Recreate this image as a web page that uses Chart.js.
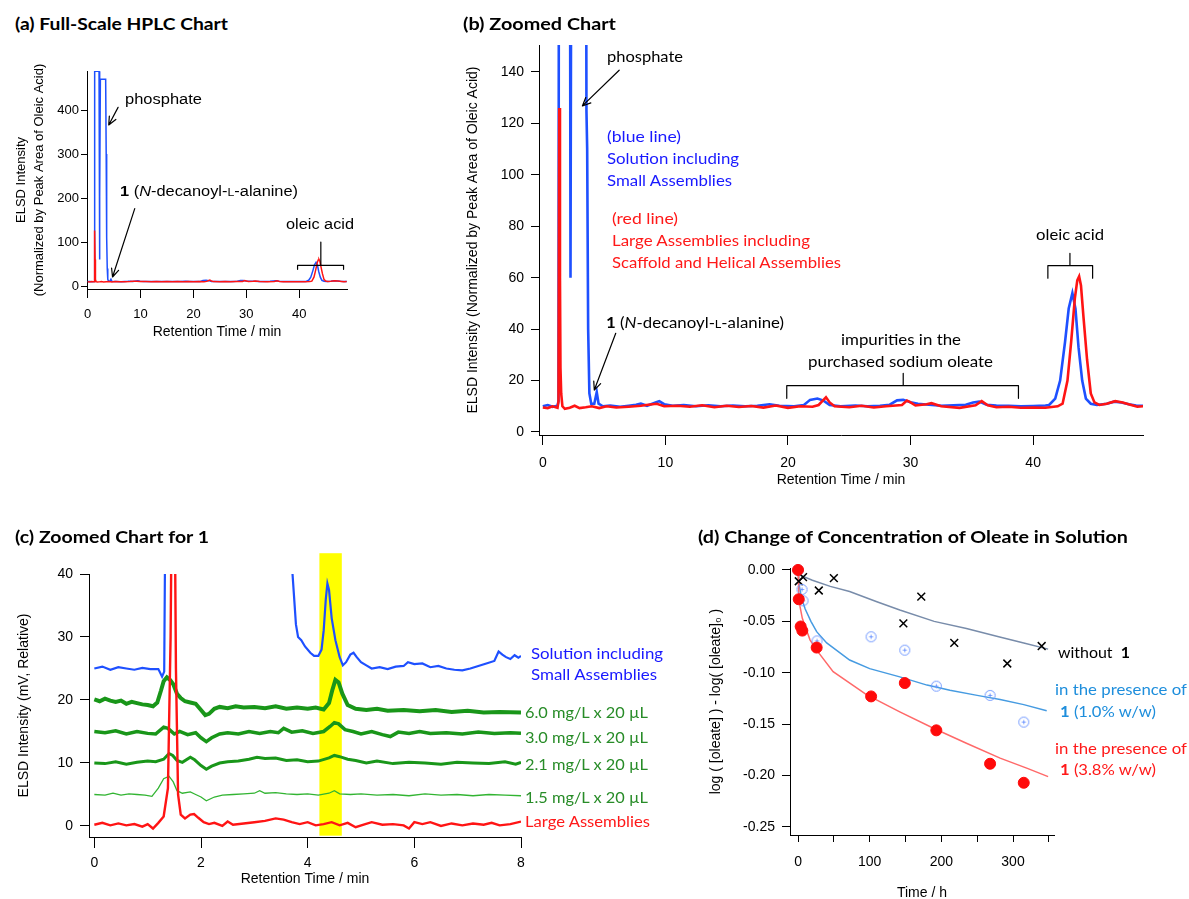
<!DOCTYPE html>
<html>
<head>
<meta charset="utf-8">
<title>HPLC of oleate assemblies</title>
<script src="https://cdn.jsdelivr.net/npm/chart.js@4.4.1/dist/chart.umd.min.js"></script>
<style>
  body { margin: 0; width: 1189px; height: 899px; overflow: hidden; background: #fff; position: relative; }
  canvas { position: absolute; }
  .lbl { position: absolute; white-space: nowrap; line-height: 1; transform-origin: 0 50%; z-index: 2; }
  .sc { font-size: 75%; }
</style>
</head>
<body>
<canvas id="chartA" width="400" height="310" style="left:0;top:40px"></canvas>
<canvas id="chartB" width="749" height="500" style="left:440px;top:0"></canvas>
<canvas id="chartC" width="690" height="354" style="left:0;top:545px"></canvas>
<canvas id="chartD" width="499" height="360" style="left:690px;top:545px"></canvas>
<script>
// --- data: [retention time (min), signal] ---
const hplcBlue = [[0,10],[0.4,10.5],[0.8,9.8],[1.2,10.2],[1.28,12],[1.36,488],[2.15,488],[2.22,200],[2.26,60],[2.32,200],[2.4,470],[3.4,470],[3.5,300],[3.56,125],[3.62,110],[3.7,40],[3.8,15],[3.95,11],[4.2,11],[4.4,15.5],[4.55,11],[4.9,10],[5.5,10.3],[6.3,9.8],[7.0,10.2],[7.6,10.6],[8.0,11],[8.5,10.2],[9.2,11.5],[9.5,12],[9.9,10.8],[10.6,10.2],[11.5,10.5],[12.5,10],[13.5,10.4],[14.5,10],[15.5,10.3],[16.5,10],[17.5,10.2],[18.5,10.8],[19.3,10.2],[20.5,10],[21.3,10.5],[21.8,12.5],[22.4,13],[22.9,12.2],[23.4,10.5],[24.3,10],[25.5,10.3],[26.5,10],[27.5,10.2],[28.3,10.6],[28.9,12.3],[29.4,12.5],[30.0,11.6],[30.6,11],[31.5,10.6],[32.5,10.2],[33.5,10.4],[34.5,10.6],[35.1,11.5],[35.6,11.8],[36.2,10.6],[37.0,10.3],[38.0,10.2],[39.0,10],[40.0,10.1],[41.0,10.3],[41.3,10.5],[41.8,13],[42.2,20],[42.6,35],[42.9,48],[43.2,54],[43.45,48],[43.7,33],[44.0,20],[44.3,13],[44.7,11],[45.2,10.5],[46.0,11],[46.6,11.8],[47.2,11.5],[47.8,10.8],[48.4,10.3],[49.0,10.2]];
const hplcRed = [[0,9.5],[0.4,9.3],[0.8,10],[1.2,9.4],[1.28,12],[1.34,126],[1.4,60],[1.44,25],[1.5,15],[1.6,10],[1.8,9],[2.2,9.4],[2.6,10.2],[3.0,9.3],[3.5,9.6],[4.0,10],[4.6,9.3],[5.2,10],[6.0,9.5],[7.0,9.8],[8.0,10.2],[8.6,10.6],[9.3,11],[9.9,10],[11.0,10.2],[12.0,9.8],[13.0,10.4],[14.0,9.6],[15.0,10.2],[16.0,9.7],[17.0,10.1],[18.0,9.5],[19.0,10.3],[20.0,9.4],[21.0,10],[22.0,9.8],[22.5,10.5],[22.8,12],[23.1,13.5],[23.4,11.5],[23.8,10],[25.0,9.6],[26.0,10.2],[27.0,9.5],[28.0,10],[29.3,10.5],[29.7,12.2],[30.0,11.5],[30.4,10.3],[31.3,10.8],[31.7,11.2],[32.5,10],[34.0,9.4],[35.3,10.4],[35.8,12],[36.3,10.4],[37.0,9.6],[38.0,9.8],[39.0,9.4],[40.0,9.5],[41.0,9.4],[42.0,10],[42.4,11],[42.8,20],[43.1,35],[43.4,52],[43.6,59],[43.75,60.5],[43.9,57],[44.1,45],[44.4,28],[44.7,15],[45.0,11.5],[45.4,10.5],[46.0,11],[46.7,12],[47.3,11.5],[48.0,10.5],[48.5,9.8],[49.0,10]];

// panel (c): first 8 min, relative mV
const cSmall = [[0,25],[0.15,25.3],[0.3,24.8],[0.45,25.2],[0.6,25],[0.75,24.8],[0.9,25.1],[1.05,24.9],[1.2,24.9],[1.27,23.7],[1.31,24.5],[1.34,60],[3.68,60],[3.7,42],[3.74,37],[3.78,32],[3.82,30],[3.88,29.5],[3.95,28.5],[4.05,27.5],[4.12,27],[4.2,27],[4.26,28],[4.3,31],[4.34,36],[4.37,38.5],[4.4,37.5],[4.45,33],[4.52,29.5],[4.6,26.8],[4.66,25.5],[4.72,26],[4.8,27.2],[4.86,27.5],[4.92,26.8],[5.0,26],[5.1,25.5],[5.2,25],[5.35,25.2],[5.5,24.9],[5.65,25.3],[5.8,25.4],[5.88,26],[6.0,25.7],[6.15,25.8],[6.3,25.2],[6.45,25.4],[6.6,25],[6.75,24.8],[6.9,24.7],[7.05,25],[7.2,25.4],[7.35,25.8],[7.5,26.2],[7.58,27.7],[7.65,27.2],[7.72,26.8],[7.8,26.5],[7.88,27.1],[7.95,26.7],[8.0,27]];
const c60 = [[0,20.1],[0.1,19.8],[0.2,20.2],[0.3,19.9],[0.4,19.7],[0.5,19.9],[0.6,19.4],[0.7,19.7],[0.8,19.5],[0.9,19.3],[1.0,19.2],[1.1,19.0],[1.18,19.6],[1.25,21.5],[1.3,23.0],[1.36,23.6],[1.42,23.2],[1.48,22.5],[1.55,21.0],[1.62,20.3],[1.7,19.8],[1.8,19.6],[1.9,19.4],[2.0,18.4],[2.08,17.6],[2.15,17.8],[2.25,18.6],[2.35,18.9],[2.5,18.7],[2.65,19.0],[2.8,18.8],[3.0,18.9],[3.2,18.7],[3.4,19.0],[3.6,18.6],[3.8,18.8],[4.0,18.6],[4.15,18.8],[4.3,18.5],[4.4,19.5],[4.46,21.5],[4.52,23.2],[4.58,22.8],[4.65,21.0],[4.75,19.2],[4.9,18.6],[5.1,18.4],[5.3,18.6],[5.5,18.3],[5.8,18.4],[6.1,18.2],[6.4,18.4],[6.7,18.1],[7.0,18.3],[7.3,18.0],[7.6,18.1],[8.0,18.0]];
const c30 = [[0,15],[0.2,14.8],[0.4,15.1],[0.6,14.6],[0.8,15],[1.0,14.7],[1.15,14.6],[1.3,15.7],[1.38,15.5],[1.5,14.6],[1.6,15],[1.75,14.5],[1.9,14.8],[2.0,14.0],[2.1,13.4],[2.2,14],[2.35,14.6],[2.5,14.8],[2.7,14.6],[2.9,15],[3.1,14.7],[3.3,15],[3.45,14.8],[3.55,15.5],[3.7,14.9],[3.9,15.1],[4.1,14.7],[4.3,15],[4.42,15.8],[4.5,16.4],[4.58,16.2],[4.7,15.3],[4.85,15],[5.0,14.6],[5.2,15],[5.4,14.5],[5.55,14.2],[5.7,14.9],[5.9,14.7],[6.1,15],[6.3,14.7],[6.6,14.8],[6.9,14.6],[7.2,14.9],[7.5,14.7],[7.8,14.8],[8.0,14.7]];
const c21 = [[0,10],[0.2,9.9],[0.4,10.2],[0.6,9.8],[0.8,10.1],[1.0,10.3],[1.15,10.2],[1.3,10.6],[1.4,11.5],[1.47,11.2],[1.55,10.4],[1.65,10.1],[1.8,10.9],[1.88,10.5],[2.0,9.6],[2.1,9.0],[2.2,9.5],[2.35,10],[2.5,10.2],[2.7,10.3],[2.9,10.6],[3.05,10.9],[3.2,10.7],[3.4,10.8],[3.6,10.4],[3.8,10.5],[4.0,10.2],[4.2,10.3],[4.4,10.8],[4.5,11.2],[4.6,11],[4.75,10.6],[4.9,10.4],[5.1,10],[5.3,10.3],[5.6,9.9],[5.9,10.1],[6.2,10],[6.5,9.8],[6.8,10.1],[7.1,10],[7.4,9.9],[7.7,10.2],[7.9,9.8],[8.0,10.1]];
const c15 = [[0,5],[0.2,4.9],[0.35,5.2],[0.5,4.9],[0.65,5.1],[0.8,5],[0.95,4.9],[1.08,4.7],[1.2,6],[1.3,7.5],[1.4,7.9],[1.48,7],[1.55,5.6],[1.65,5.2],[1.8,5.4],[1.9,5],[2.0,4.6],[2.1,4.0],[2.25,4.6],[2.4,4.9],[2.6,5],[2.8,5.1],[3.0,5.2],[3.1,5.6],[3.2,5.2],[3.4,5.3],[3.6,5.1],[3.8,5],[4.0,5.1],[4.2,4.9],[4.4,5.2],[4.5,5.6],[4.6,5.1],[4.8,5],[5.0,5.1],[5.3,4.9],[5.6,5],[5.9,4.8],[6.2,5.1],[6.5,4.9],[6.8,5],[7.1,4.8],[7.4,5],[7.7,4.9],[8.0,4.8]];
const cLarge = [[0,0.2],[0.15,0.5],[0.3,0.1],[0.45,0.4],[0.6,0.1],[0.75,0.3],[0.9,-0.1],[1.0,0.3],[1.1,-0.4],[1.2,0.5],[1.3,1.5],[1.38,6],[1.43,30],[1.46,60],[1.5,60],[1.53,25],[1.57,5],[1.62,1.8],[1.7,1.2],[1.8,1.8],[1.87,1.9],[1.95,1.3],[2.05,0.6],[2.15,0.3],[2.25,0.5],[2.4,0],[2.5,0.7],[2.6,0.2],[2.8,0.4],[3.0,0.6],[3.2,0.8],[3.4,1.2],[3.55,1],[3.7,0.6],[3.85,0.3],[4.0,0.6],[4.15,0.1],[4.3,0.3],[4.45,0.6],[4.6,0.1],[4.75,0.5],[4.9,-0.2],[5.05,0.2],[5.2,0.6],[5.4,0.2],[5.6,0.3],[5.8,0.1],[5.9,-0.4],[6.0,0.6],[6.15,0.3],[6.3,0.6],[6.5,0],[6.7,0.4],[6.9,0.1],[7.1,0.4],[7.3,0.2],[7.45,0.5],[7.6,0.1],[7.8,0.3],[8.0,0.7]];

// panel (d): time (h) and log([oleate]) - log([oleate]0)
const timeNo1 = [1, 7, 29, 50, 147, 172, 218, 292, 340];
const logNo1 = [-0.011, -0.007, -0.020, -0.008, -0.052, -0.026, -0.071, -0.091, -0.074];
const time10 = [0, 5.6, 7, 26.5, 102, 149, 193, 268, 315];
const log10 = [0, -0.019, -0.030, -0.069, -0.065, -0.078, -0.113, -0.122, -0.148];
const time38 = [0, 1, 3.7, 6, 26, 102, 149, 193, 268, 315];
const log38 = [0, -0.0285, -0.055, -0.059, -0.0755, -0.123, -0.110, -0.156, -0.1885, -0.207];
const fitNo1T = [0, 3, 20, 45, 72, 110, 142, 190, 235, 280, 315, 349];
const fitNo1Y = [-0.001, -0.005, -0.010, -0.016, -0.021, -0.031, -0.039, -0.050, -0.057, -0.065, -0.071, -0.077];
const fit10T = [0, 1, 3, 5, 10, 18, 26, 40, 72, 100, 142, 180, 212, 250, 282, 315, 347];
const fit10Y = [0, -0.012, -0.020, -0.0276, -0.038, -0.050, -0.060, -0.071, -0.0876, -0.096, -0.104, -0.112, -0.117, -0.122, -0.126, -0.131, -0.137];
const fit38T = [0, 1, 2.8, 6, 10, 16.7, 26, 49, 96, 142, 189, 235, 282, 320, 349];
const fit38Y = [0, -0.022, -0.0357, -0.047, -0.055, -0.068, -0.078, -0.099, -0.1216, -0.138, -0.154, -0.1686, -0.183, -0.193, -0.201];

// tick labels
const ticksA_x = [0, 10, 20, 30, 40];
const ticksA_y = [0, 100, 200, 300, 400];
const ticksB_x = [0, 10, 20, 30, 40];
const ticksB_y = [0, 20, 40, 60, 80, 100, 120, 140];
const ticksC_x = [0, 2, 4, 6, 8];
const ticksC_y = [0, 10, 20, 30, 40];
const ticksD_x = [0, 50, 100, 150, 200, 250, 300, 350];
const ticksD_y = [0, -0.05, -0.1, -0.15, -0.2, -0.25];

// --- colours ---
const BLUE = 'rgb(30,80,255)';
const RED = 'rgb(255,20,20)';
const GREEN = 'rgb(25,150,25)';
const GREEN_LT = 'rgb(50,180,50)';
const TXT_BLUE = 'rgb(25,25,255)';
const TXT_RED = 'rgb(255,25,25)';
const TXT_GREEN = 'rgb(40,140,40)';
const D_BLUE = 'rgb(30,142,220)';

Chart.defaults.font.family = "'Liberation Sans', 'DejaVu Sans', Arial, sans-serif";
Chart.defaults.color = '#000';
Chart.defaults.animation = false;
Chart.defaults.plugins.legend.display = false;
Chart.defaults.plugins.tooltip.enabled = false;

const pairsXY = pairs => pairs.map(([x, y]) => ({ x, y }));
const zipXY = (xs, ys) => xs.map((x, i) => ({ x, y: ys[i] }));

function trace(data, color, width) {
    return { data, borderColor: color, borderWidth: width, showLine: true, pointRadius: 0, tension: 0, fill: false };
}

function axis(o) {
    return {
        type: 'linear',
        min: o.min, max: o.max,
        afterFit: s => { if (s.isHorizontal()) s.height = o.size; else s.width = o.size; },
        afterBuildTicks: s => { s.ticks = o.ticks.map(v => ({ value: v })); },
        grid: { drawOnChartArea: false, drawTicks: true, tickLength: o.tick, tickColor: '#000', tickWidth: 1, color: '#000' },
        border: { display: true, color: '#000', width: 1 },
        ticks: { padding: o.pad, font: { size: o.font }, color: '#000', maxRotation: 0, autoSkip: false, callback: o.label || (v => String(v)) },
        title: { display: true, text: o.title, color: '#000', font: { size: o.titleFont || 14, lineHeight: o.titleLH || 1.2 }, padding: o.titlePad }
    };
}

// annotation layer: arrows and brackets in data coordinates
function notes(draw) {
    return {
        id: 'notes',
        afterDatasetsDraw(chart) {
            const { ctx, scales: { x, y } } = chart;
            const P = (a, b) => [x.getPixelForValue(a), y.getPixelForValue(b)];
            ctx.save();
            ctx.strokeStyle = '#000';
            ctx.lineWidth = 1.2;
            ctx.lineJoin = 'round';
            ctx.lineCap = 'round';
            draw(ctx, P);
            ctx.restore();
        }
    };
}

function arrow(ctx, from, to) {
    const [x1, y1] = from, [x2, y2] = to;
    const a = Math.atan2(y2 - y1, x2 - x1), h = 9;
    ctx.beginPath();
    ctx.moveTo(x1, y1); ctx.lineTo(x2, y2);
    ctx.moveTo(x2 - h * Math.cos(a - 0.42), y2 - h * Math.sin(a - 0.42));
    ctx.lineTo(x2, y2);
    ctx.lineTo(x2 - h * Math.cos(a + 0.42), y2 - h * Math.sin(a + 0.42));
    ctx.stroke();
}

function bracket(ctx, P, x1, x2, xm, yh, ye, yt) {
    const [l, h] = P(x1, yh), [r] = P(x2, yh), [m, top] = P(xm, yt), [, end] = P(x1, ye);
    ctx.beginPath();
    ctx.moveTo(l, end); ctx.lineTo(l, h); ctx.lineTo(r, h); ctx.lineTo(r, end);
    ctx.moveTo(m, h); ctx.lineTo(m, top);
    ctx.stroke();
}

// (a) full scale
new Chart(document.getElementById('chartA'), {
    type: 'scatter',
    data: { datasets: [trace(pairsXY(hplcRed), RED, 1.5), trace(pairsXY(hplcBlue), BLUE, 1.5)] },
    options: {
        responsive: false,
        layout: { padding: { left: 0, top: 31, right: 53, bottom: 0 } },
        scales: {
            x: axis({ min: -0.13, max: 49.05, size: 61, tick: 9, pad: 9, font: 13, ticks: ticksA_x,
                title: 'Retention Time / min', titlePad: { top: 0, bottom: 9.6 } }),
            y: axis({ min: -6.8, max: 488.7, size: 87, tick: 6, pad: 2, font: 13, ticks: ticksA_y,
                title: ['ELSD Intensity', '(Normalized by Peak Area of Oleic Acid)'], titleFont: 13, titleLH: 1.354,
                titlePad: { top: 12.9, bottom: 0 } })
        }
    },
    plugins: [notes((ctx, P) => {
        arrow(ctx, P(5.75, 406), P(3.98, 366));
        arrow(ctx, P(8.9, 176), P(4.7, 20.5));
        bracket(ctx, P, 39.7, 48.4, 44.1, 47, 38, 100);
    })]
});

// (b) zoomed
new Chart(document.getElementById('chartB'), {
    type: 'scatter',
    data: { datasets: [trace(pairsXY(hplcRed), RED, 2.6), trace(pairsXY(hplcBlue), BLUE, 2.6)] },
    options: {
        responsive: false,
        layout: { padding: { left: 0, top: 45, right: 46, bottom: 0 } },
        scales: {
            x: axis({ min: -0.31, max: 48.96, size: 65, tick: 10, pad: 9.6, font: 14, ticks: ticksB_x,
                title: 'Retention Time / min', titlePad: { top: 0, bottom: 11.6 } }),
            y: axis({ min: -1.17, max: 150.5, size: 99, tick: 8, pad: 7, font: 14, ticks: ticksB_y,
                title: 'ELSD Intensity (Normalized by Peak Area of Oleic Acid)', titlePad: { top: 25, bottom: 0 } })
        }
    },
    plugins: [notes((ctx, P) => {
        arrow(ctx, P(6.23, 140.7), P(3.23, 126.8));
        arrow(ctx, P(5.95, 38.4), P(4.2, 16.3));
        bracket(ctx, P, 19.9, 38.8, 29.4, 18.0, 13.1, 22.8);
        bracket(ctx, P, 41.2, 44.85, 43.0, 64.7, 59.8, 69.5);
    })]
});

// (c) zoomed for compound 1
const yellowBand = {
    id: 'yellowBand',
    beforeDatasetsDraw(chart) {
        const { ctx, scales: { x, y } } = chart;
        const l = x.getPixelForValue(4.22), r = x.getPixelForValue(4.64);
        const t = y.getPixelForValue(43.3), b = y.getPixelForValue(-1.54);
        ctx.save();
        ctx.fillStyle = '#ffff00';
        ctx.fillRect(l, t, r - l, b - t);
        ctx.restore();
    }
};

new Chart(document.getElementById('chartC'), {
    type: 'scatter',
    data: {
        datasets: [
            trace(pairsXY(cLarge), RED, 2.4),
            trace(pairsXY(cSmall), BLUE, 2.2),
            trace(pairsXY(c15), GREEN_LT, 1.3),
            trace(pairsXY(c21), GREEN, 3),
            trace(pairsXY(c30), GREEN, 3.5),
            trace(pairsXY(c60), GREEN, 4)
        ]
    },
    options: {
        responsive: false,
        layout: { padding: { left: 0, top: 29, right: 169, bottom: 0 } },
        scales: {
            x: axis({ min: -0.1, max: 8, size: 62, tick: 11, pad: 6.6, font: 14, ticks: ticksC_x,
                title: 'Retention Time / min', titlePad: { top: 0, bottom: 11.6 } }),
            y: axis({ min: -1.75, max: 40, size: 89, tick: 9, pad: 7, font: 14, ticks: ticksC_y,
                title: 'ELSD Intensity (mV, Relative)', titlePad: { top: 16, bottom: 0 } })
        }
    },
    plugins: [yellowBand]
});

// (d) concentration change
function circlePlus(color) {
    const c = document.createElement('canvas');
    c.width = 13; c.height = 13;
    const g = c.getContext('2d');
    g.strokeStyle = color; g.lineWidth = 1;
    g.beginPath(); g.arc(6.5, 6.5, 5, 0, Math.PI * 2); g.stroke();
    g.beginPath(); g.moveTo(6.5, 4.5); g.lineTo(6.5, 8.5); g.moveTo(4.5, 6.5); g.lineTo(8.5, 6.5); g.stroke();
    return c;
}

new Chart(document.getElementById('chartD'), {
    type: 'scatter',
    data: {
        datasets: [
            { data: zipXY(time38, log38), pointStyle: 'circle', pointRadius: 5.5, backgroundColor: 'rgb(255,10,10)', borderColor: 'rgb(255,10,10)', borderWidth: 1, clip: false },
            { data: zipXY(time10, log10), pointStyle: circlePlus('rgb(110,150,255)'), clip: false },
            { data: zipXY(timeNo1, logNo1), pointStyle: 'crossRot', pointRadius: 5.5, borderColor: '#000', borderWidth: 1.5, clip: false },
            { ...trace(zipXY(fit38T, fit38Y), 'rgb(255,105,105)', 1.5), clip: false },
            { ...trace(zipXY(fit10T, fit10Y), 'rgb(70,155,225)', 1.5), clip: false },
            { ...trace(zipXY(fitNo1T, fitNo1Y), 'rgb(120,140,170)', 1.5), clip: false }
        ]
    },
    options: {
        responsive: false,
        layout: { padding: { left: 0, top: 23, right: 135, bottom: 0 } },
        scales: {
            x: axis({ min: -11.2, max: 357.2, size: 70, tick: 7, pad: 11.6, font: 14, ticks: ticksD_x,
                label: v => (v % 100 === 0 ? String(v) : ''),
                title: 'Time / h', titlePad: { top: 0, bottom: 3.9 } }),
            y: axis({ min: -0.2578, max: 0.0019, size: 100, tick: 8, pad: 7, font: 14, ticks: ticksD_y,
                label: v => v.toFixed(2),
                title: 'log ( [oleate] ) - log( [oleate]\u2080 )', titlePad: { top: 17.6, bottom: 0 } })
        }
    }
});

// --- free text: [html, left, centre y, target width, font, colour] ---
const T_FONT = "bold 17px Lato, 'Open Sans', sans-serif";
const N_FONT = "16px Lato, 'Open Sans', sans-serif";
const A_FONT = "14px 'Liberation Sans', Arial, sans-serif";
const ONE_NAME = '<b>1</b> (<i>N</i>-decanoyl-<span class="sc">L</span>-alanine)';
const labels = [
    ['(a) Full-Scale HPLC Chart', 15, 23, 213, T_FONT, '#000'],
    ['(b) Zoomed Chart', 463, 23, 153, T_FONT, '#000'],
    ['(c) Zoomed Chart for 1', 15, 536, 194, T_FONT, '#000'],
    ['(d) Change of Concentration of Oleate in Solution', 698, 536, 430, T_FONT, '#000'],
    ['phosphate', 125, 99, 77, A_FONT, '#000'],
    [ONE_NAME, 120, 191, 178, A_FONT, '#000'],
    ['oleic acid', 286, 224, 68, A_FONT, '#000'],
    ['phosphate', 607, 56, 76, N_FONT, '#000'],
    ['(blue line)', 607, 136, 74, N_FONT, TXT_BLUE],
    ['Solution including', 607, 158, 132, N_FONT, TXT_BLUE],
    ['Small Assemblies', 607, 180, 125, N_FONT, TXT_BLUE],
    ['(red line)', 612, 218, 66, N_FONT, TXT_RED],
    ['Large Assemblies including', 612, 240, 198, N_FONT, TXT_RED],
    ['Scaffold and Helical Assemblies', 612, 262, 229, N_FONT, TXT_RED],
    [ONE_NAME, 606, 322, 178, N_FONT, '#000'],
    ['impurities in the', 841, 339, 120, N_FONT, '#000'],
    ['purchased sodium oleate', 808, 361, 185, N_FONT, '#000'],
    ['oleic acid', 1036, 234, 68, N_FONT, '#000'],
    ['Solution including', 531, 653, 132, N_FONT, TXT_BLUE],
    ['Small Assemblies', 531, 674, 126, N_FONT, TXT_BLUE],
    ['6.0 mg/L x 20 \u00b5L', 525, 712, 123, N_FONT, TXT_GREEN],
    ['3.0 mg/L x 20 \u00b5L', 525, 737, 123, N_FONT, TXT_GREEN],
    ['2.1 mg/L x 20 \u00b5L', 525, 764, 123, N_FONT, TXT_GREEN],
    ['1.5 mg/L x 20 \u00b5L', 525, 797, 123, N_FONT, TXT_GREEN],
    ['Large Assemblies', 525, 821, 125, N_FONT, TXT_RED],
    ['without&nbsp; <b>1</b>', 1058, 652, 72, N_FONT, '#000'],
    ['in the presence of', 1055, 689, 132, N_FONT, D_BLUE],
    ['<b>1</b> (1.0% w/w)', 1060, 711, 96, N_FONT, D_BLUE],
    ['in the presence of', 1055, 748, 132, N_FONT, TXT_RED],
    ['<b>1</b> (3.8% w/w)', 1060, 769, 96, N_FONT, TXT_RED]
];

labels.forEach(([html, x, y, w, font, color]) => {
    const el = document.createElement('div');
    el.className = 'lbl';
    el.innerHTML = html;
    el.style.left = x + 'px';
    el.style.top = y + 'px';
    el.style.font = font;
    el.style.lineHeight = '1';
    el.style.color = color;
    document.body.appendChild(el);
    const natural = el.getBoundingClientRect().width;
    el.style.transform = `translateY(-50%) scaleX(${(w / natural).toFixed(3)})`;
});
</script>
</body>
</html>
